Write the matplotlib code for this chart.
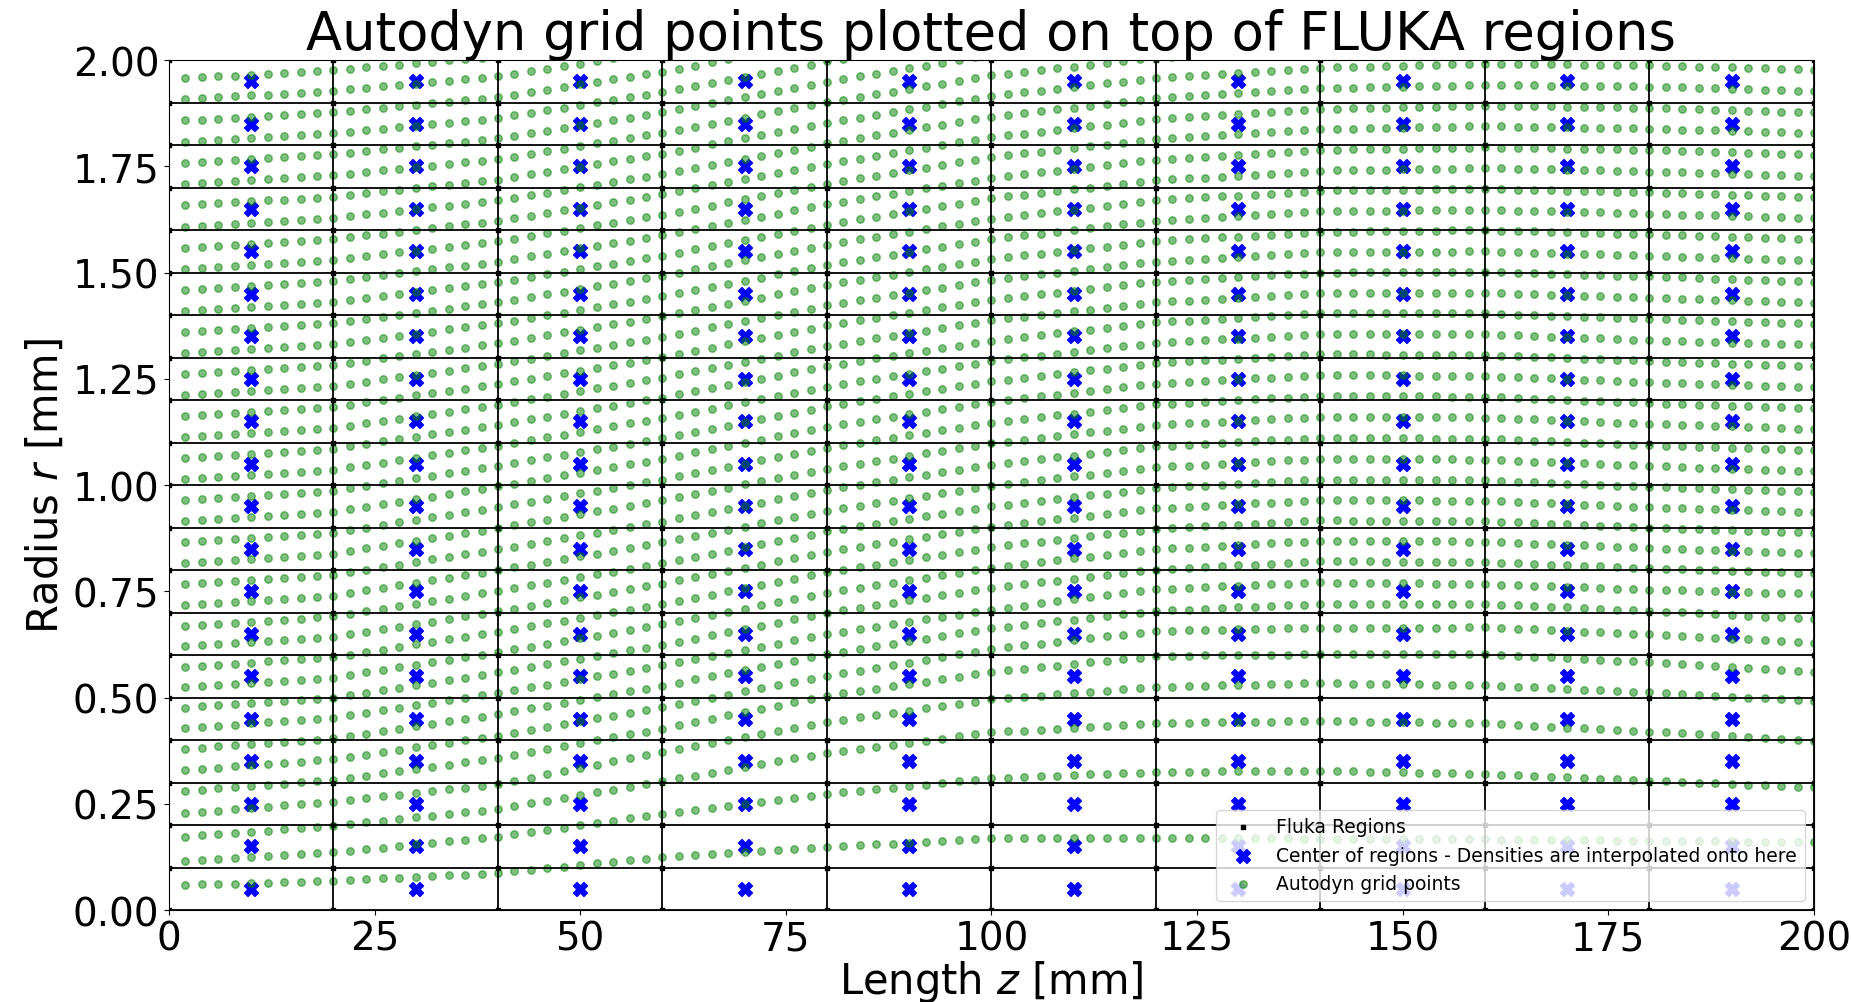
import matplotlib
matplotlib.use('Agg')
import matplotlib.pyplot as plt
import numpy as np

# FLUKA region boundaries [mm]
z_edges = [0, 20, 40, 60, 80, 100, 120, 140, 160, 180, 200]
r_edges = [0.0, 0.1, 0.2, 0.3, 0.4, 0.5, 0.6, 0.7, 0.8, 0.9, 1.0,
           1.1, 1.2, 1.3, 1.4, 1.5, 1.6, 1.7, 1.8, 1.9, 2.0]

# centres of the regions
z_centres = [10, 30, 50, 70, 90, 110, 130, 150, 170, 190]
r_centres = [0.05, 0.15, 0.25, 0.35, 0.45, 0.55, 0.65, 0.75, 0.85, 0.95,
             1.05, 1.15, 1.25, 1.35, 1.45, 1.55, 1.65, 1.75, 1.85, 1.95]

z_cols = np.arange(2, 201, 2)
z_knots = [0, 20, 40, 60, 80, 100, 120, 140, 160, 180, 200]
mesh_rows = [
    [0.058, 0.069, 0.087, 0.125, 0.148, 0.169, 0.170, 0.168, 0.166, 0.163, 0.160],
    [0.113, 0.136, 0.173, 0.226, 0.273, 0.310, 0.325, 0.328, 0.320, 0.304, 0.289],
    [0.170, 0.198, 0.238, 0.303, 0.370, 0.418, 0.440, 0.445, 0.439, 0.420, 0.398],
    [0.225, 0.255, 0.296, 0.373, 0.443, 0.496, 0.525, 0.534, 0.529, 0.512, 0.492],
    [0.278, 0.306, 0.358, 0.427, 0.504, 0.560, 0.598, 0.602, 0.602, 0.583, 0.559],
    [0.327, 0.355, 0.410, 0.478, 0.551, 0.614, 0.657, 0.664, 0.665, 0.649, 0.629],
    [0.377, 0.404, 0.461, 0.528, 0.602, 0.663, 0.704, 0.720, 0.720, 0.704, 0.685],
    [0.426, 0.452, 0.511, 0.576, 0.649, 0.707, 0.755, 0.771, 0.767, 0.754, 0.744],
    [0.474, 0.499, 0.559, 0.624, 0.699, 0.758, 0.801, 0.821, 0.819, 0.804, 0.792],
    [0.522, 0.547, 0.607, 0.672, 0.747, 0.806, 0.849, 0.869, 0.867, 0.852, 0.840],
    [0.570, 0.595, 0.655, 0.720, 0.795, 0.854, 0.897, 0.917, 0.915, 0.900, 0.888],
    [0.618, 0.643, 0.703, 0.768, 0.843, 0.902, 0.945, 0.965, 0.963, 0.948, 0.936],
    [0.666, 0.691, 0.751, 0.816, 0.891, 0.950, 0.993, 1.013, 1.011, 0.996, 0.984],
    [0.715, 0.740, 0.800, 0.865, 0.940, 0.999, 1.042, 1.062, 1.060, 1.045, 1.033],
    [0.764, 0.789, 0.849, 0.914, 0.989, 1.048, 1.091, 1.111, 1.109, 1.094, 1.082],
    [0.814, 0.839, 0.899, 0.964, 1.039, 1.098, 1.141, 1.161, 1.159, 1.144, 1.132],
    [0.863, 0.888, 0.948, 1.013, 1.088, 1.147, 1.190, 1.210, 1.208, 1.193, 1.181],
    [0.912, 0.937, 0.997, 1.062, 1.137, 1.196, 1.239, 1.259, 1.257, 1.242, 1.230],
    [0.962, 0.987, 1.046, 1.110, 1.185, 1.244, 1.287, 1.308, 1.306, 1.292, 1.280],
    [1.011, 1.036, 1.093, 1.158, 1.232, 1.292, 1.335, 1.355, 1.355, 1.341, 1.330],
    [1.061, 1.086, 1.142, 1.206, 1.280, 1.340, 1.383, 1.404, 1.404, 1.391, 1.380],
    [1.110, 1.134, 1.189, 1.253, 1.327, 1.388, 1.430, 1.452, 1.453, 1.441, 1.429],
    [1.160, 1.184, 1.238, 1.301, 1.376, 1.436, 1.479, 1.500, 1.502, 1.491, 1.479],
    [1.209, 1.233, 1.285, 1.349, 1.423, 1.483, 1.526, 1.548, 1.550, 1.540, 1.528],
    [1.259, 1.283, 1.334, 1.397, 1.471, 1.532, 1.574, 1.596, 1.600, 1.590, 1.579],
    [1.308, 1.332, 1.381, 1.444, 1.518, 1.579, 1.622, 1.644, 1.648, 1.639, 1.628],
    [1.358, 1.382, 1.430, 1.493, 1.566, 1.627, 1.670, 1.693, 1.697, 1.689, 1.678],
    [1.407, 1.431, 1.477, 1.540, 1.613, 1.675, 1.717, 1.740, 1.746, 1.738, 1.727],
    [1.457, 1.480, 1.526, 1.588, 1.661, 1.723, 1.766, 1.789, 1.795, 1.789, 1.778],
    [1.507, 1.530, 1.574, 1.636, 1.709, 1.772, 1.814, 1.837, 1.845, 1.839, 1.828],
    [1.556, 1.579, 1.622, 1.684, 1.756, 1.819, 1.861, 1.885, 1.893, 1.888, 1.877],
    [1.606, 1.629, 1.670, 1.732, 1.804, 1.867, 1.910, 1.934, 1.942, 1.938, 1.927],
    [1.656, 1.679, 1.719, 1.780, 1.852, 1.916, 1.958, 1.982, 1.992, 1.988, 1.978],
    [1.706, 1.729, 1.767, 1.829, 1.901, 1.964, 2.006, 2.031, 2.041, 2.038, 2.028],
    [1.756, 1.779, 1.816, 1.877, 1.949, 2.013, 2.055, 2.080, 2.091, 2.088, 2.078],
    [1.806, 1.828, 1.864, 1.925, 1.997, 2.061, 2.103, 2.128, 2.140, 2.139, 2.128],
    [1.856, 1.878, 1.913, 1.973, 2.045, 2.109, 2.151, 2.177, 2.189, 2.189, 2.179],
    [1.906, 1.928, 1.962, 2.022, 2.093, 2.158, 2.200, 2.225, 2.239, 2.239, 2.229],
    [1.955, 1.977, 2.009, 2.069, 2.140, 2.205, 2.247, 2.273, 2.287, 2.288, 2.278],
]


fig, ax = plt.subplots(figsize=(18.51, 10.03), dpi=100)
fig.subplots_adjust(left=0.0913, right=0.980, top=0.939, bottom=0.0917)

# region outlines
for z in z_edges:
    ax.plot([z, z], [r_edges[0], r_edges[-1]], 'k-', lw=1.3)
for r in r_edges:
    ax.plot([z_edges[0], z_edges[-1]], [r, r], 'k-', lw=1.3)
zz, rr = np.meshgrid(z_edges, r_edges)
ax.scatter(zz.ravel(), rr.ravel(), marker='s', s=5, c='k', label='Fluka Regions')

zc, rc = np.meshgrid(z_centres, r_centres)
ax.scatter(zc.ravel(), rc.ravel(), marker='X', s=100, c='b',
           label='Center of regions - Densities are interpolated onto here')

gz = []
gr = []
for row in mesh_rows:
    gz.extend(z_cols)
    gr.extend(np.interp(z_cols, z_knots, row))
ax.scatter(gz, gr, s=29, c='g', alpha=0.5, label='Autodyn grid points')

ax.set_xlim(0, 200)
ax.set_ylim(0, 2)
ax.tick_params(labelsize=28)
ax.set_title('Autodyn grid points plotted on top of FLUKA regions', fontsize=38)
ax.set_xlabel('Length $z$ [mm]', fontsize=30, labelpad=0)
ax.set_ylabel('Radius $r$ [mm]', fontsize=30)
ax.legend(loc='lower right', fontsize=13.5)

plt.savefig('out.png')
